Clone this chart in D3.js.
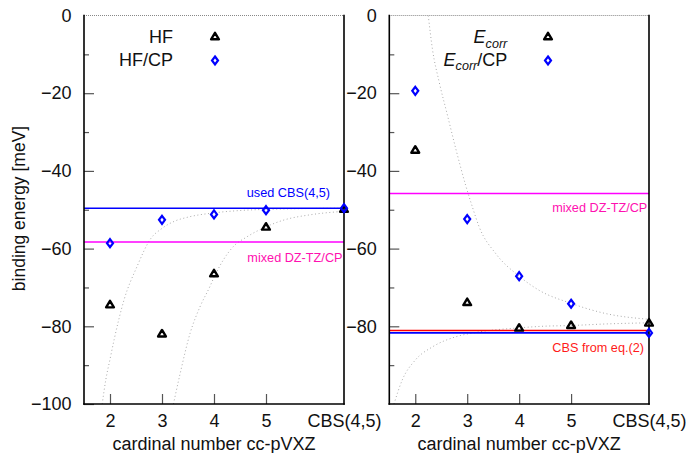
<!DOCTYPE html>
<html>
<head>
<meta charset="utf-8">
<script src="https://cdn.jsdelivr.net/npm/d3@7"></script>
<style>
  html, body { margin: 0; padding: 0; background: #fff; }
  svg { display: block; font-family: "Liberation Sans", Arial, Helvetica, sans-serif; }
</style>
</head>
<body>
<svg id="chart" width="687" height="453"></svg>
<script>
// cardinal numbers of cc-pVXZ; the CBS(4,5) estimate is placed at the right edge
const basisX = [2, 3, 4, 5, 6.5];
const xTickLabels = ["2", "3", "4", "5", "CBS(4,5)"];

// Hartree-Fock binding energies [meV]
const hf   = [-74.4, -81.9, -66.4, -54.4, -49.8];
const hfCP = [-58.6, -52.6, -51.2, -50.1, -49.6];
const hfCbsUsed = -49.6;
const hfMixed = -58.3;

// correlation binding energies [meV]
const ecorr   = [-34.6, -73.8, -80.4, -79.7, -79.1];
const ecorrCP = [-19.4, -52.4, -67.1, -74.2, -81.7];
const ecorrMixed = -45.8;
const ecorrCbsEq2 = -81.1;
const ecorrCbsCP = -81.7;

// extrapolation curves [X, meV]
const hfCPFit = [[1.85,-100],[1.92,-93.7],[2.0,-88.5],[2.08,-83.4],[2.27,-73.2],[2.52,-64.6],
  [2.78,-57.5],[3.0,-54.8],[3.25,-52.9],[3.5,-51.9],[4.0,-50.8],[4.5,-50.2],[5.0,-49.9],
  [5.5,-49.75],[6.0,-49.65],[6.5,-49.6]];
const hfFit = [[3.22,-100],[3.35,-92.1],[3.54,-81.8],[3.73,-75.0],[3.92,-69.8],[4.0,-67.4],
  [4.37,-59.5],[4.63,-57.0],[5.0,-54.4],[5.33,-52.7],[5.85,-51.3],[6.5,-50.4]];
const ecorrCPFit = [[2.25,0],[2.33,-8.6],[2.46,-17.1],[2.62,-25.7],[2.78,-34.3],[2.97,-43.7],
  [3.1,-49.3],[3.23,-54.4],[3.55,-61.3],[4.0,-67.1],[4.38,-70.7],[5.0,-74.1],[5.66,-76.7],[6.5,-78.2]];
const ecorrFit = [[1.59,-100],[1.75,-93.8],[2.0,-88.7],[2.33,-85.3],[2.78,-82.7],[3.16,-81.6],
  [4.0,-80.4],[4.44,-80.0],[5.0,-79.8],[5.66,-79.4],[6.5,-79.1]];

const yMajorLeft = [0, -20, -40, -60, -80, -100];
const yMajorRight = [0, -20, -40, -60, -80];
const yMinor = [-10, -30, -50, -70, -90];

const svg = d3.select("#chart");
const plotTop = 15.5, plotBottom = 404;
const y = d3.scaleLinear().domain([0, -100]).range([plotTop, plotBottom]);
const fmtY = d => d === 0 ? "0" : "\u2212" + Math.abs(d);

const triPath = "M0,-3.7L3.9,2.8L-3.9,2.8Z";
const diaPath = "M0,-4L3.0,0L0,4L-3.0,0Z";

function drawPanel(cfg) {
  const x = d3.scaleLinear().domain([1.5, 6.5]).range([cfg.x0, cfg.x1]);
  const g = svg.append("g");

  // y axis: major and minor ticks pointing inward
  const ya = g.append("g").attr("transform", `translate(${cfg.x0},0)`)
    .call(d3.axisLeft(y).tickValues(cfg.yMajor).tickSize(-10).tickPadding(12.5).tickFormat(fmtY));
  const ym = g.append("g").attr("transform", `translate(${cfg.x0},0)`)
    .call(d3.axisLeft(y).tickValues(yMinor).tickSize(-5).tickFormat(""));
  [ya, ym].forEach(a => {
    a.select(".domain").remove();
    a.selectAll(".tick line").attr("stroke", "#555").attr("stroke-width", 1.2);
  });
  ya.selectAll(".tick").filter(d => d === 0).select("line").remove();
  ya.selectAll("text").attr("font-size", 18).attr("fill", "#111")
    .attr("font-family", "Liberation Sans, Arial, sans-serif");

  // x axis
  const xa = g.append("g").attr("transform", `translate(0,${plotBottom})`)
    .call(d3.axisBottom(x).tickValues(basisX).tickSize(-10).tickPadding(10)
      .tickFormat((d, i) => xTickLabels[i]));
  xa.select(".domain").remove();
  xa.selectAll(".tick line").attr("stroke", "#555").attr("stroke-width", 1.2);
  xa.selectAll(".tick").filter(d => d === 6.5).select("line").remove();
  xa.selectAll("text").attr("font-size", 18).attr("fill", "#111")
    .attr("font-family", "Liberation Sans, Arial, sans-serif");

  // dotted zero line along the top
  g.append("line").attr("x1", cfg.x0).attr("x2", cfg.x1).attr("y1", y(0)).attr("y2", y(0))
    .attr("stroke", "#888").attr("stroke-width", 1).attr("stroke-dasharray", "1,1");

  // clip for curves
  const clipId = "clip" + cfg.id;
  svg.append("clipPath").attr("id", clipId).append("rect")
    .attr("x", cfg.x0).attr("y", plotTop).attr("width", cfg.x1 - cfg.x0).attr("height", plotBottom - plotTop);

  const line = d3.line().x(d => x(d[0])).y(d => y(d[1])).curve(d3.curveMonotoneX);
  cfg.fits.forEach(f => {
    g.append("path").attr("d", line(f)).attr("fill", "none").attr("clip-path", `url(#${clipId})`)
      .attr("stroke", "#aaa").attr("stroke-width", 1).attr("stroke-dasharray", "1,2.6");
  });

  // horizontal reference lines with their labels
  cfg.refs.forEach(r => {
    g.append("line").attr("x1", cfg.x0).attr("x2", cfg.x1).attr("y1", y(r.v)).attr("y2", y(r.v))
      .attr("stroke", r.color).attr("stroke-width", 1.6);
  });
  cfg.refs.filter(r => r.label).forEach(r => {
    g.append("text").attr("x", cfg.x1 - r.dx).attr("y", y(r.v) + r.dy)
      .attr("text-anchor", "end").attr("font-size", 12.7).attr("fill", r.textColor || r.color)
      .text(r.label);
  });

  // frame
  const frame = [[cfg.x0, plotTop, cfg.x0, plotBottom], [cfg.x0, plotBottom, cfg.x1, plotBottom], [cfg.x1, plotTop, cfg.x1, plotBottom]];
  frame.forEach(l => g.append("line").attr("x1", l[0]).attr("y1", l[1]).attr("x2", l[2]).attr("y2", l[3])
    .attr("stroke", "#000").attr("stroke-width", 1.6).attr("stroke-linecap", "square"));

  // data markers
  const pts = (vals) => basisX.map((b, i) => [b, vals[i]]);
  g.selectAll(null).data(pts(cfg.tri)).join("path")
    .attr("d", triPath).attr("transform", d => `translate(${x(d[0])},${y(d[1])})`)
    .attr("fill", "none").attr("stroke", "#000").attr("stroke-width", 2.4).attr("stroke-linejoin", "round");
  g.selectAll(null).data(pts(cfg.dia)).join("path")
    .attr("d", diaPath).attr("transform", d => `translate(${x(d[0])},${y(d[1])})`)
    .attr("fill", "none").attr("stroke", "#0000ff").attr("stroke-width", 2.2);

  // legend
  const lg = g.append("g");
  cfg.legend(lg);
  lg.append("path").attr("d", triPath).attr("transform", `translate(${cfg.legX},36.5)`)
    .attr("fill", "none").attr("stroke", "#000").attr("stroke-width", 2.4).attr("stroke-linejoin", "round");
  lg.append("path").attr("d", diaPath).attr("transform", `translate(${cfg.legX},60.5)`)
    .attr("fill", "none").attr("stroke", "#0000ff").attr("stroke-width", 2.2);

  // x axis title
  g.append("text").attr("x", (cfg.x0 + cfg.x1) / 2).attr("y", 449.5).attr("text-anchor", "middle")
    .attr("font-size", 18).attr("fill", "#111").text("cardinal number cc-pVXZ");
}

drawPanel({
  id: "L", x0: 84, x1: 344, yMajor: yMajorLeft,
  tri: hf, dia: hfCP, fits: [hfCPFit, hfFit],
  refs: [
    { v: hfCbsUsed, color: "#0000ff", label: "used CBS(4,5)", dx: 14, dy: -11 },
    { v: hfMixed, color: "#ff00ff", textColor: "#ff10b0", label: "mixed DZ-TZ/CP", dx: 1.5, dy: 20.5 }
  ],
  legX: 215,
  legend: lg => {
    lg.append("text").attr("x", 173).attr("y", 43.3).attr("text-anchor", "end")
      .attr("font-size", 18).attr("fill", "#111").text("HF");
    lg.append("text").attr("x", 173).attr("y", 66).attr("text-anchor", "end")
      .attr("font-size", 18).attr("fill", "#111").text("HF/CP");
  }
});

drawPanel({
  id: "R", x0: 389.3, x1: 649, yMajor: yMajorRight,
  tri: ecorr, dia: ecorrCP, fits: [ecorrCPFit, ecorrFit],
  refs: [
    { v: ecorrMixed, color: "#ff00ff", textColor: "#ff10b0", label: "mixed DZ-TZ/CP", dx: 1.7, dy: 19 },
    { v: ecorrCbsCP, color: "#0000ff" },
    { v: ecorrCbsEq2, color: "#ff0000", textColor: "#ff1a1a", label: "CBS from eq.(2)", dx: 5, dy: 21 }
  ],
  legX: 548,
  legend: lg => {
    const t1 = lg.append("text").attr("x", 507.3).attr("y", 43.3).attr("text-anchor", "end")
      .attr("font-size", 18).attr("fill", "#111");
    t1.append("tspan").attr("font-style", "italic").text("E");
    t1.append("tspan").attr("font-style", "italic").attr("font-size", 12.6).attr("dy", 4.5).text("corr");
    const t2 = lg.append("text").attr("x", 507.3).attr("y", 65.5).attr("text-anchor", "end")
      .attr("font-size", 18).attr("fill", "#111");
    t2.append("tspan").attr("font-style", "italic").text("E");
    t2.append("tspan").attr("font-style", "italic").attr("font-size", 12.6).attr("dy", 4.5).text("corr");
    t2.append("tspan").attr("dy", -4.5).text("/CP");
  }
});

// shared y axis title
svg.append("text").attr("transform", "translate(25,208.5) rotate(-90)").attr("text-anchor", "middle")
  .attr("font-size", 17.5).attr("fill", "#111").text("binding energy [meV]");
</script>
</body>
</html>
